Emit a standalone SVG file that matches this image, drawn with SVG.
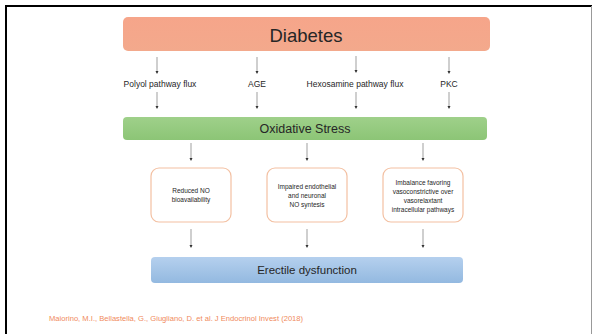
<svg xmlns="http://www.w3.org/2000/svg" width="592" height="334" viewBox="0 0 592 334">
<defs>
<linearGradient id="gOrange" x1="0" y1="0" x2="0" y2="1"><stop offset="0" stop-color="#f6a58a"/><stop offset="1" stop-color="#f3a98c"/></linearGradient>
<linearGradient id="gGreen" x1="0" y1="0" x2="0" y2="1"><stop offset="0" stop-color="#9fd08a"/><stop offset="1" stop-color="#8cc576"/></linearGradient>
<linearGradient id="gBlue" x1="0" y1="0" x2="0" y2="1"><stop offset="0" stop-color="#b5d0ee"/><stop offset="1" stop-color="#93b9e0"/></linearGradient>
<marker id="ah" markerWidth="4" markerHeight="4" refX="2" refY="2" orient="auto" markerUnits="userSpaceOnUse"><path d="M0,0.5 L3,2 L0,3.5 Z" fill="#333"/></marker>
<style>
text{font-family:"Liberation Sans",Arial,sans-serif;fill:#262626;text-anchor:middle}
.lbl{font-size:8.5px}
.box{fill:#fff;stroke:#f3c0a2;stroke-width:1.2}
.bt{font-size:6.5px}
.con line{stroke:#777;stroke-width:0.7;marker-end:url(#ah)}
</style>
</defs>
<rect x="0" y="0" width="592" height="334" fill="#fff"/>
<path d="M6,334 V6 H592" fill="none" stroke="#000" stroke-width="2"/>
<line x1="591.5" y1="6" x2="591.5" y2="334" stroke="#999" stroke-width="1"/>

<g id="diabetes"><rect x="123" y="17" width="367" height="34" rx="5" fill="url(#gOrange)"/><text x="306" y="42" style="font-size:18.5px">Diabetes</text></g>

<g id="polyol"><text class="lbl" x="160" y="87">Polyol pathway flux</text></g>
<g id="age"><text class="lbl" x="257" y="87">AGE</text></g>
<g id="hexosamine"><text class="lbl" x="355" y="87">Hexosamine pathway flux</text></g>
<g id="pkc"><text class="lbl" x="449" y="87">PKC</text></g>

<g id="oxidative"><rect x="123" y="117" width="364" height="23" rx="4" fill="url(#gGreen)"/><text x="305" y="133" style="font-size:12.5px">Oxidative Stress</text></g>

<g id="reduced"><rect class="box" x="151" y="168" width="80" height="54" rx="8"/><text class="bt" x="191" y="193">Reduced NO</text><text class="bt" x="191" y="202">bioavailability</text></g>
<g id="impaired"><rect class="box" x="267" y="168" width="80" height="54" rx="8"/><text class="bt" x="307" y="189">Impaired endothelial</text><text class="bt" x="307" y="198">and neuronal</text><text class="bt" x="307" y="207">NO syntesis</text></g>
<g id="imbalance"><rect class="box" x="383" y="168" width="80" height="54" rx="8"/><text class="bt" x="423" y="185">Imbalance favoring</text><text class="bt" x="423" y="194">vasoconstrictive over</text><text class="bt" x="423" y="203">vasorelaxtant</text><text class="bt" x="423" y="212">intracellular pathways</text></g>

<g id="erectile"><rect x="151" y="257" width="312" height="26" rx="4" fill="url(#gBlue)"/><text x="307" y="274" style="font-size:11.5px">Erectile dysfunction</text></g>

<g class="con" id="connectors">
<line x1="157" y1="57" x2="157" y2="73"/>
<line x1="257" y1="57" x2="257" y2="73"/>
<line x1="356" y1="56" x2="356" y2="72"/>
<line x1="449" y1="57" x2="449" y2="73"/>
<line x1="157" y1="92" x2="157" y2="108"/>
<line x1="257" y1="92" x2="257" y2="108"/>
<line x1="356" y1="92" x2="356" y2="108"/>
<line x1="449" y1="92" x2="449" y2="108"/>
<line x1="191" y1="143" x2="191" y2="160"/>
<line x1="307" y1="143" x2="307" y2="160"/>
<line x1="423" y1="143" x2="423" y2="160"/>
<line x1="191" y1="229" x2="191" y2="247"/>
<line x1="307" y1="229" x2="307" y2="247"/>
<line x1="423" y1="229" x2="423" y2="247"/>
</g>

<text x="49" y="321" style="font-size:7.6px;fill:#f08a5c;text-anchor:start">Maiorino,  M.I., Bellastella,  G., Giugliano,  D.  et al.  J  Endocrinol  Invest  (2018)</text>
</svg>
